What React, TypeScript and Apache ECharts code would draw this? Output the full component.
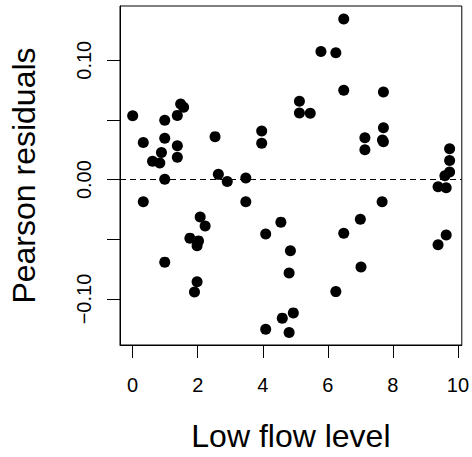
import React, { useEffect, useRef } from "react";
import * as echarts from "echarts";

// Low flow level (x) and Pearson residuals (y)
const xs: number[] = [
  0, 0.326, 0.326, 0.61, 0.834, 0.885, 0.986, 0.986, 0.986, 0.986,
  1.373, 1.373, 1.373, 1.475, 1.566, 1.76, 1.98, 2.024, 2.075, 2.228,
  1.98, 1.9, 2.533, 2.634, 2.908, 3.479, 3.479, 3.967, 3.967, 4.09,
  4.557, 4.85, 4.81, 4.94, 4.6, 4.09, 4.81, 5.127, 5.127, 5.46,
  5.789, 6.247, 6.49, 6.49, 6.49, 6.247, 7.0, 7.02, 7.14, 7.14,
  7.71, 7.71, 7.68, 7.71, 7.67, 9.745, 9.745, 9.745, 9.6, 9.39,
  9.64, 9.64, 9.39,
];
const ys: number[] = [
  0.0535, 0.031, -0.0186, 0.0154, 0.014, 0.0228, 0.0497, 0.0346, 0.0003, -0.0691,
  0.0538, 0.0283, 0.0187, 0.0634, 0.0607, -0.049, -0.0554, -0.0513, -0.0313, -0.0389,
  -0.0856, -0.0941, 0.036, 0.0044, -0.0016, 0.0014, -0.0186, 0.0407, 0.0305, -0.0455,
  -0.0356, -0.0595, -0.0782, -0.1116, -0.116, -0.1253, -0.1281, 0.0656, 0.0557, 0.0555,
  0.1073, 0.1062, 0.1345, 0.0749, -0.0449, -0.0938, -0.0332, -0.0732, 0.0351, 0.025,
  0.0733, 0.0434, 0.0332, 0.0318, -0.0186, 0.0258, 0.016, 0.0063, 0.0033, -0.006,
  -0.0068, -0.0463, -0.0546,
];
const xTicks: number[] = [0, 2, 4, 6, 8, 10];
const yTicks: number[] = [-0.1, -0.05, 0, 0.05, 0.1];
const yLabels: number[] = [-0.1, 0, 0.1];
const xTitle = "Low flow level";
const yTitle = "Pearson residuals";

const FONT = "'Liberation Sans', Arial, Helvetica, sans-serif";

export default function App() {
  const ref = useRef<HTMLDivElement>(null);
  useEffect(() => {
    if (!ref.current) return;
    const chart = echarts.init(ref.current, undefined, { renderer: "svg" });
    const data = xs.map((x, i) => [x, ys[i]]);
    chart.setOption({
      animation: false,
      backgroundColor: "#ffffff",
      grid: {
        left: 118,
        top: 6,
        width: 344.5,
        height: 345,
        show: true,
        borderColor: "#000000",
        borderWidth: 1,
        backgroundColor: "transparent",
      },
      xAxis: {
        type: "value",
        min: -0.39,
        max: 10.12,
        name: xTitle,
        nameLocation: "middle",
        nameGap: 75,
        nameTextStyle: { fontFamily: FONT, fontSize: 32, color: "#000" },
        axisLine: { show: true, onZero: false, lineStyle: { color: "#000", width: 1 } },
        axisTick: {
          show: true,
          length: 13,
          customValues: xTicks,
          lineStyle: { color: "#000", width: 1 },
        },
        axisLabel: {
          customValues: xTicks,
          margin: 30,
          fontFamily: FONT,
          fontSize: 20,
          color: "#000",
        },
        splitLine: { show: false },
      },
      yAxis: {
        type: "value",
        min: -0.1385,
        max: 0.1454,
        name: yTitle,
        nameLocation: "middle",
        nameGap: 80,
        nameTextStyle: { fontFamily: FONT, fontSize: 32, color: "#000" },
        axisLine: { show: true, onZero: false, lineStyle: { color: "#000", width: 1 } },
        axisTick: {
          show: true,
          length: 13,
          customValues: yTicks,
          lineStyle: { color: "#000", width: 1 },
        },
        axisLabel: {
          customValues: yLabels,
          rotate: 90,
          margin: 26,
          fontFamily: FONT,
          fontSize: 20,
          color: "#000",
          formatter: (v: number) => v.toFixed(2).replace("-", "\u2212"),
        },
        splitLine: { show: false },
      },
      series: [
        {
          type: "scatter",
          data,
          symbol: "circle",
          symbolSize: 11,
          itemStyle: { color: "#000000", opacity: 1 },
          emphasis: { disabled: true },
          markLine: {
            silent: true,
            symbol: "none",
            label: { show: false },
            lineStyle: { color: "#000", width: 1, type: [6, 4] },
            data: [{ yAxis: 0 }],
          },
        },
      ],
    });
    return () => chart.dispose();
  }, []);
  return (
    <div
      ref={ref}
      style={{ position: "fixed", left: 0, top: 0, width: 472, height: 457, background: "#fff" }}
    />
  );
}
